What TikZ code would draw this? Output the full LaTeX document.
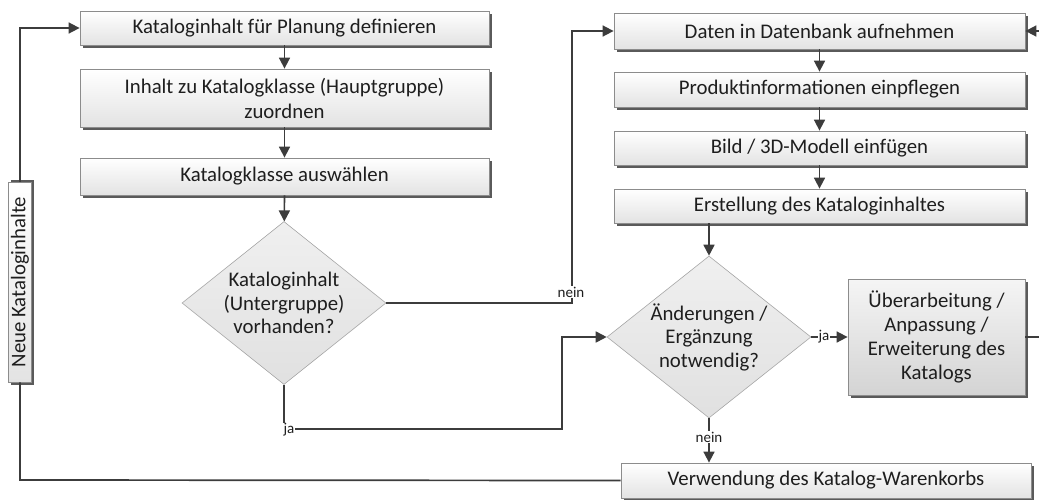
\documentclass[tikz,border=0pt]{standalone}
\usepackage{fontspec}
\setmainfont{Carlito}
\usetikzlibrary{shapes.geometric,shadows,arrows.meta,calc}
\definecolor{lineclr}{HTML}{3C3C3C}
\definecolor{edgeclr}{HTML}{8C8C8C}
\definecolor{shadowclr}{HTML}{5A5A5A}
\definecolor{txtclr}{HTML}{1E1E1E}
\tikzset{
  box/.style={rectangle, draw=edgeclr, line width=0.8pt, top color=white, bottom color=black!11,
    drop shadow={shadow xshift=2.5pt, shadow yshift=-2.5pt, fill=shadowclr, opacity=1},
    inner sep=0pt, align=center, text=txtclr, font=\fontsize{20.8}{25}\selectfont},
  bigbox/.style={box, top color=black!4, bottom color=black!17, font=\fontsize{20.8}{24}\selectfont},
  decision/.style={diamond, draw=black!35, line width=0.6pt, top color=black!6, bottom color=black!12,
    inner sep=0pt},
  dtext/.style={align=center, text=txtclr, inner sep=0pt, font=\fontsize{20.8}{23.5}\selectfont},
  flow/.style={draw=lineclr, line width=1.7pt},
  arr/.style={flow, -{Triangle[length=11pt,width=11pt]}},
  lbl/.style={fill=white, inner sep=0.5pt, text=txtclr, font=\fontsize{15}{17}\selectfont},
}
\begin{document}
\begin{tikzpicture}[x=1pt,y=-1pt]
\useasboundingbox (0,0) rectangle (1039,499);
\clip (0,0) rectangle (1039,499);

% left column
\node[box, minimum width=409pt, minimum height=34pt] (k1) at (284.5,28) {Kataloginhalt für Planung definieren};
\node[box, minimum width=409pt, minimum height=58pt] (k2) at (284.5,98) {Inhalt zu Katalogklasse (Hauptgruppe)\\zuordnen};
\node[box, minimum width=409pt, minimum height=37pt] (k3) at (284.5,176.5) {Katalogklasse auswählen};
\node[decision, minimum width=204pt, minimum height=163pt,
  label={[dtext]center:{Kataloginhalt\\(Untergruppe)\\vorhanden?}}] (d1) at (284,303) {};

% vertical side label
\node[box, rotate=90, minimum width=200pt, minimum height=23pt,
  drop shadow={shadow xshift=2.5pt, shadow yshift=2.5pt, fill=shadowclr, opacity=1}] (neu) at (20,282) {Neue Kataloginhalte};

% right column
\node[box, minimum width=411pt, minimum height=36pt] (r1) at (819.5,31) {Daten in Datenbank aufnehmen};
\node[box, minimum width=411pt, minimum height=35pt] (r2) at (819.5,89.5) {Produktinformationen einpflegen};
\node[box, minimum width=411pt, minimum height=34pt] (r3) at (819.5,148) {Bild / 3D-Modell einfügen};
\node[box, minimum width=411pt, minimum height=34pt] (r4) at (819.5,206) {Erstellung des Kataloginhaltes};
\node[decision, minimum width=204pt, minimum height=162pt,
  label={[dtext]center:{Änderungen /\\Ergänzung\\notwendig?}}] (d2) at (709,337) {};
\node[bigbox, minimum width=177pt, minimum height=116pt] (ub) at (936.5,337) {Überarbeitung /\\Anpassung /\\Erweiterung des\\Katalogs};
\node[box, minimum width=410pt, minimum height=35pt] (vw) at (826,480.5) {Verwendung des Katalog-Warenkorbs};

% connectors
\draw[arr] (k1) -- (k2);
\draw[arr] (k2) -- (k3);
\draw[arr] (k3) -- (d1);
\draw[arr] (r1) -- (r2);
\draw[arr] (r2) -- (r3);
\draw[arr] (r3) -- (r4);
\draw[arr] (d2.north |- r4.south) -- (d2.north);

% "nein" branch of the first decision
\coordinate (cn) at (572,303);
\draw[arr] (d1.east) -- (cn) |- (r1.west);
\node[lbl] at (571,292) {nein};

% "ja" branch of the first decision
\coordinate (cj) at (284,429);
\coordinate (cj2) at (562,429);
\draw[arr] (d1.south) -- (cj) -- (cj2) |- (d2.west);
\node[lbl] at (289,430) {ja};

% second decision
\draw[arr] (d2.east) -- node[lbl, pos=0.35] {ja} (ub.west);
\draw[arr] (d2.south) -- node[lbl, pos=0.42] {nein} (vw.north -| d2.south);

% loop back into the data entry
\coordinate (rb) at (1050,337);
\draw[arr] (ub.east) -- (rb) |- (r1.east);

% loop back to the start through the side label
\coordinate (lb) at (20,480);
\draw[flow] (vw.west) -- (lb) -- (neu.west);
\draw[arr] (neu.east) |- (k1.west);
\end{tikzpicture}
\end{document}
